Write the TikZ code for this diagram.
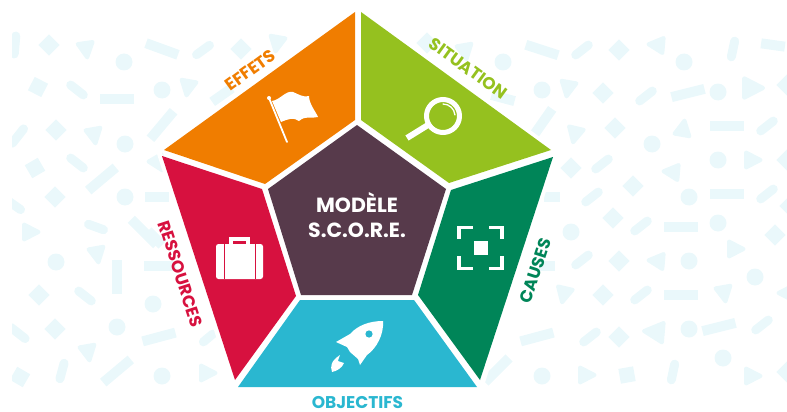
\documentclass[tikz,border=0pt]{standalone}
\usepackage{fontspec}
\setmainfont{Poppins}
\usepackage{tikz}
\definecolor{confetti}{HTML}{EAF8FB}
\definecolor{effets}{HTML}{F07D00}
\definecolor{situation}{HTML}{95C11F}
\definecolor{causes}{HTML}{008558}
\definecolor{ressources}{HTML}{D7113F}
\definecolor{objectifs}{HTML}{2AB7D0}
\definecolor{modele}{HTML}{573A4B}
\tikzset{dotc/.style={fill=confetti}}
\tikzset{barc/.style={draw=confetti,line width=10}}
\tikzset{pillc/.style={draw=confetti,line width=9,line cap=round}}
\tikzset{squarec/.style={fill=confetti}}
\tikzset{tric/.style={fill=confetti,draw=confetti,line width=4,line join=round}}
\tikzset{label/.style={font=\bfseries\fontsize{17}{17}\selectfont,inner sep=0pt}}
\tikzset{title/.style={font=\bfseries\fontsize{20.5}{25}\selectfont,inner sep=0pt,text=white,align=center}}
\tikzset{icon/.style={fill=white}}

\begin{document}
\begin{tikzpicture}[x=1pt,y=-1pt]
\useasboundingbox (0,0) rectangle (787,412);

\begin{scope}
\clip (12,0) rectangle (787,412);
% dots
\foreach \x/\y in {124/62,162/90,125/144,125/197,56/262,153/304,117/327,162/376,
  503/62,542/90,684/62,718/92,652/144,718/160,689/197,571/232,718/223,689/261,755/277,
  689/329,723/358,542/376}
 {
 \fill[dotc] (\x,\y) circle (8.5);
 }
% bars
\foreach \x/\y/\a/\l in {162/49/-20/17,117/99/0/17,162/125/50/18,102/179/40/18,157/197/0/12,
  144/232/-45/18,117/277/90/17,160/266/0/16,159/337/15/17,117/371/40/18,
  542/50/-18/17,503/98/-15/12,543/122/55/16,773/45/-8/12,688/93/14/17,727/126/0/17,
  727/194/0/17,552/197/0/8,681/227/0/17,681/295/0/17,547/266/0/8,537/337/15/17,719/327/14/17,497/370/45/17,155/238/-45/10,222/95/35/12}
 {
 \draw[barc,shift={(\x,\y)},rotate=\a] (-\l,0) -- (\l,0);
 }
% pills
\foreach \x/\y/\a/\l in {203/50/36/8,77/90/-38/8,18/136/52/9,77/163/-38/8,14/205/-35/8,
  96/227/-20/8,85/296/-38/8,18/333/-38/9,62/371/75/8,208/338/40/6,15/45/85/9,
  582/50/38/8,733/49/78/8,646/96/38/8,767/126/38/8,602/164/38/8,592/197/38/8,767/194/38/8,
  641/226/38/8,582/260/38/8,641/295/38/8,590/337/38/8,762/325/38/8,673/372/78/8}
 {
 \draw[pillc,shift={(\x,\y)},rotate=\a] (-\l,0) -- (\l,0);
 }
% diamonds and squares
\foreach \x/\y/\a in {49/45/45,56/130/45,55/197/45,39/295/45,55/329/45,241/49/45,427/43/45,
  38/87/-27,35/168/30,20/377/-30,
  619/50/45,603/93/45,615/128/45,571/168/45,633/186/45,613/218/45,619/261/45,603/295/45,
  619/337/45,775/235/45,787/85/45,787/160/45,787/372/45,627/375/10,790/206/45}
 {
 \fill[squarec,shift={(\x,\y)},rotate=\a] (-7.5,-7.5) rectangle (7.5,7.5);
 }
% triangles
\foreach \x/\y/\a/\s in {86/49/-82/1,188/87/-100/1,94/135/-80/1,158/163/-60/1,30/232/0/1,97/254/-80/1,88/352/-80/1,
  207/373/0/1,277/43/-100/1,465/51/-80/1,568/88/-100/1,575/134/-103/1,564/294/-103/1,724/293/-80/1,
  657/45/175/1,752/88/0/1.3,683/129/80/1,752/160/0/1,672/172/175/1,735/249/0/1,657/261/175/1,655/332/175/1.3,
  586/375/0/1,752/376/0/1,787/293/180/1}
 {
 \draw[tric,shift={(\x,\y)},rotate=\a,scale=\s] (8.5,0) -- (-6,7.5) -- (-6,-7.5) -- cycle;
 }
\end{scope}

% halo round the pentagon
\draw[white,line width=5,line join=miter] (358,7) -- (556,152) -- (481,387) -- (235,387) -- (159,152) -- cycle;

% sectors
\fill[effets] (355,12) -- (164,150) -- (265,184) -- (355,120) -- cycle;
\fill[situation] (361,12) -- (551,150) -- (449,183) -- (361,120) -- cycle;
\fill[causes] (553,157) -- (451,190) -- (418,295) -- (480,380) -- cycle;
\fill[ressources] (162,156) -- (262,189) -- (296,296) -- (235,380) -- cycle;
\fill[objectifs] (300,300) -- (414,300) -- (477,387) -- (238,387) -- cycle;
\fill[modele] (357,125) -- (446,189) -- (412,295) -- (301,295) -- (268,189) -- cycle;

% labels
\node[label,text=effets,rotate=36] (effetslabel) at (250.5,70) {EFFETS};
\node[label,text=situation,rotate=-36] (situationlabel) at (468,68) {SITUATION};
\node[label,text=ressources,rotate=-72] (ressourceslabel) at (180.5,274) {RESSOURCES};
\node[label,text=causes,rotate=72] (causeslabel) at (535.5,271) {CAUSES};
\node[label,text=objectifs] (objectifslabel) at (357.5,403) {OBJECTIFS};
\node[title] (modelelabel) at (357,215.5) {MODÈLE\\S.C.O.R.E.};

% flag
\draw[white,line width=1.8,line cap=round] (269,98) -- (287,142);
\fill[white] (269,98) circle (2);
\fill[icon] (272,101) .. controls (280,100) and (286,90) .. (293,92)
 .. controls (298,94) and (304,98) .. (309,96)
 .. controls (309,104) and (316,112) .. (318,117)
 .. controls (311,119) and (306,115) .. (299,121)
 .. controls (294,117) and (288,119) .. (281,122) -- cycle;

% magnifier
\draw[white,line width=5] (443,116) circle (16.5);
\draw[white,line width=6] (428,125) -- (407,138);
\draw[white,line width=1.3,line cap=round] (443,104) arc (-90:-5:12);

% briefcase
\draw[white,line width=3.2] (231,245) -- (231,239) -- (248,239) -- (248,245);
\fill[icon,rounded corners=2.5] (216,244) rectangle (263,279);
\draw[ressources,line width=1] (224,244) -- (224,279);
\draw[ressources,line width=1] (255,244) -- (255,279);

% focus frame
\draw[white,line width=3.3] (459,239) -- (459,227.5) -- (473,227.5);
\draw[white,line width=3.3] (489,227.5) -- (502,227.5) -- (502,239);
\draw[white,line width=3.3] (459,256) -- (459,268.5) -- (473,268.5);
\draw[white,line width=3.3] (489,268.5) -- (502,268.5) -- (502,256);
\fill[icon] (474,241) rectangle (488,255);

% rocket
\fill[icon] (383,321) .. controls (370,321) and (358,325) .. (350,334)
 -- (336,342) -- (347,347) -- (350,352) -- (358,359) -- (360,365) -- (367,355)
 .. controls (377,348) and (384,334) .. (383,321) -- cycle;
\fill[objectifs] (369,334) circle (3.6);
\fill[icon] (332,372) .. controls (330,366) and (331,361) .. (340,355)
 .. controls (339,358) and (338,360) .. (338,361) -- (344,363)
 .. controls (342,368) and (337,371) .. (332,372) -- cycle;

\end{tikzpicture}
\end{document}
